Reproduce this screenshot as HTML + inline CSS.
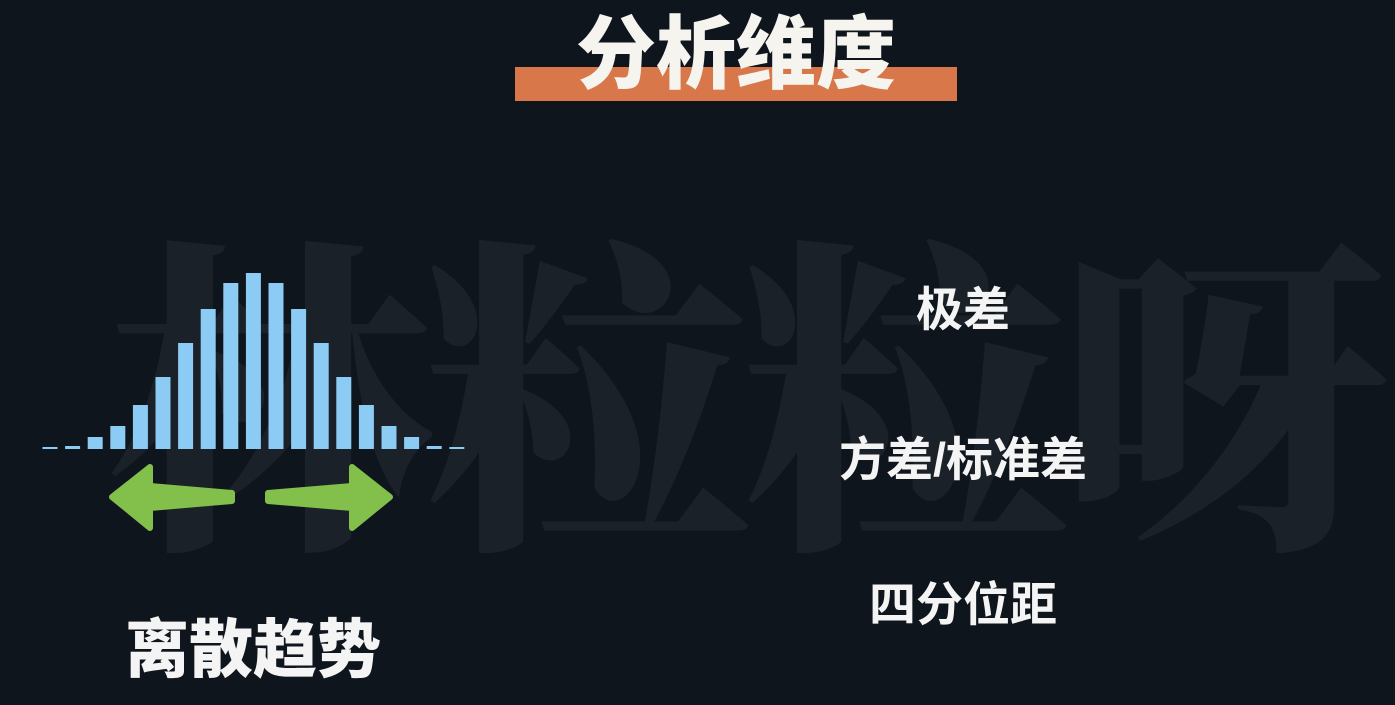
<!DOCTYPE html>
<html><head><meta charset="utf-8"><style>
html,body{margin:0;padding:0;}
body{width:1395px;height:705px;background:#0e151c;position:relative;overflow:hidden;font-family:"Liberation Sans","Noto Sans CJK SC",sans-serif;}
.abs{position:absolute;white-space:nowrap;}
.wm{left:105px;top:215px;font-size:330px;color:#1a2128;font-family:"Noto Serif CJK SC","Noto Sans CJK SC",serif;font-weight:900;letter-spacing:-12px;line-height:1;}
.title{left:515px;width:442px;top:12px;text-align:center;font-size:80px;font-weight:900;color:#f6f4ef;line-height:86px;}
.bar{left:515px;top:67px;width:442px;height:34px;background:#d8784a;}
.item{left:763px;width:400px;text-align:center;font-size:47px;font-weight:bold;color:#f4f4f4;line-height:50px;}
.label{left:103px;width:300px;text-align:center;top:615px;font-size:64px;font-weight:900;color:#f4f4f4;line-height:70px;}
</style></head><body>
<div class="abs wm">林粒粒呀</div>
<div class="abs bar"></div>
<div class="abs title">分析维度</div>
<div class="abs item" style="top:285px">极差</div>
<div class="abs item" style="top:435px">方差/标准差</div>
<div class="abs item" style="top:580px">四分位距</div>
<div class="abs label">离散趋势</div>
<svg class="abs" style="left:0;top:0" width="1395" height="705">
<g id="bars"></g>
<polygon fill="#82c04b" stroke="#82c04b" stroke-width="6" stroke-linejoin="round" points="112,497 150,467 150,486 232,493 232,501 150,508 150,528"/>
<polygon fill="#82c04b" stroke="#82c04b" stroke-width="6" stroke-linejoin="round" points="390,497 352,467 352,486 268,493 268,501 352,508 352,528"/>
</svg>
<script>
const categories=[0,1,2,3,4,5,6,7,8,9,10,11,12,13,14,15,16,17,18];
const values=[2,3,12,23,44,72,106,140,166,176,166,140,106,72,44,23,12,3,2];
const baseY=449, x0=50, step=22.6, bw=15, scale=1;
const xPos=i=>x0+i*step;
const yH=v=>v*scale;
const g=document.getElementById('bars');
categories.forEach((c,i)=>{
  const r=document.createElementNS('http://www.w3.org/2000/svg','rect');
  const h=Math.max(yH(values[i]),2);
  r.setAttribute('x',xPos(i)-bw/2);
  r.setAttribute('y',baseY-h);
  r.setAttribute('width',bw);
  r.setAttribute('height',h);
  r.setAttribute('fill','#8ccbf4');
  
  
  g.appendChild(r);
});
</script>
</body></html>
